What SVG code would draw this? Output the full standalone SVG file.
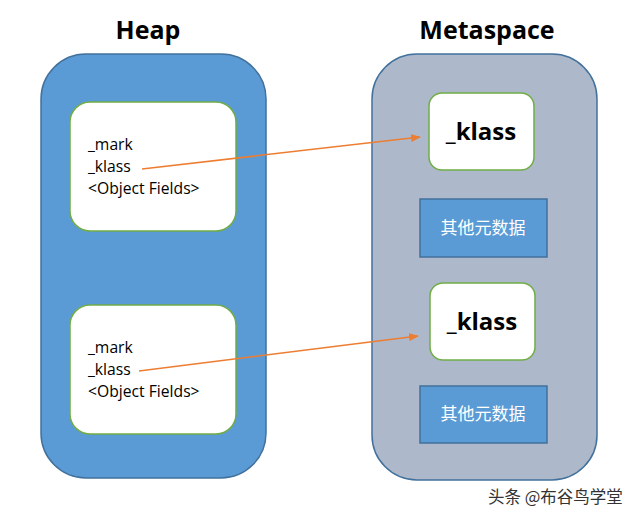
<svg xmlns="http://www.w3.org/2000/svg" width="640" height="516" viewBox="0 0 640 516">
<style>
.title{font-family:"Open Sans","Liberation Sans",sans-serif;font-weight:bold;font-size:25px;fill:#000;text-anchor:middle}
.field{font-family:"Open Sans","Liberation Sans",sans-serif;font-size:15.7px;fill:#000}
.klass{font-family:"Open Sans","Liberation Sans",sans-serif;font-weight:bold;font-size:24px;fill:#000;text-anchor:middle}
.meta{font-family:"Noto Sans CJK SC",sans-serif;font-size:17px;fill:#fff;text-anchor:middle}
.obj{fill:#fff;stroke:#70AD47;stroke-width:1.5}
.blue{fill:#5B9BD5;stroke:#41719C;stroke-width:1.5}
.conn{stroke:#ED7D31;stroke-width:1.5;fill:none}
</style>
<defs>
<marker id="ah" markerWidth="10" markerHeight="8" refX="9" refY="4" orient="auto" markerUnits="userSpaceOnUse">
<path d="M0,0 L10,4 L0,8 Z" fill="#ED7D31"/>
</marker>
</defs>
<rect width="640" height="516" fill="#fff"/>
<g id="heap">
<rect x="41" y="54" width="225" height="424" rx="45" fill="#5B9BD5" stroke="#41719C" stroke-width="1.5"/>
<text class="title" x="148" y="39">Heap</text>
</g>
<g id="metaspace">
<rect x="372" y="54" width="225" height="426" rx="45" fill="#ADB9CA" stroke="#41719C" stroke-width="1.5"/>
<text class="title" x="487" y="39">Metaspace</text>
</g>
<g id="obj1">
<rect class="obj" x="70" y="102" width="166" height="129" rx="20"/>
<text class="field" x="88" y="150">_mark</text>
<text class="field" x="88" y="172">_klass</text>
<text class="field" x="88" y="194">&lt;Object Fields&gt;</text>
</g>
<g id="obj2">
<rect class="obj" x="70" y="305" width="166" height="129" rx="20"/>
<text class="field" x="88" y="353">_mark</text>
<text class="field" x="88" y="375">_klass</text>
<text class="field" x="88" y="397">&lt;Object Fields&gt;</text>
</g>
<g id="klass1">
<rect class="obj" x="429" y="93" width="105" height="77" rx="13"/>
<text class="klass" x="481" y="140">_klass</text>
</g>
<g id="meta1">
<rect class="blue" x="420" y="199" width="127" height="58"/>
<text class="meta" x="483" y="234">其他元数据</text>
</g>
<g id="klass2">
<rect class="obj" x="430" y="283" width="105" height="77" rx="13"/>
<text class="klass" x="482" y="330">_klass</text>
</g>
<g id="meta2">
<rect class="blue" x="420" y="386" width="127" height="57"/>
<text class="meta" x="483" y="420">其他元数据</text>
</g>
<g id="connectors">
<line class="conn" x1="142" y1="169" x2="420" y2="137" marker-end="url(#ah)"/>
<line class="conn" x1="139" y1="371" x2="418" y2="336" marker-end="url(#ah)"/>
</g>
<text x="488" y="503" font-family="Noto Sans CJK SC,sans-serif" font-size="16.5" fill="#333">头条 @布谷鸟学堂</text>
</svg>
